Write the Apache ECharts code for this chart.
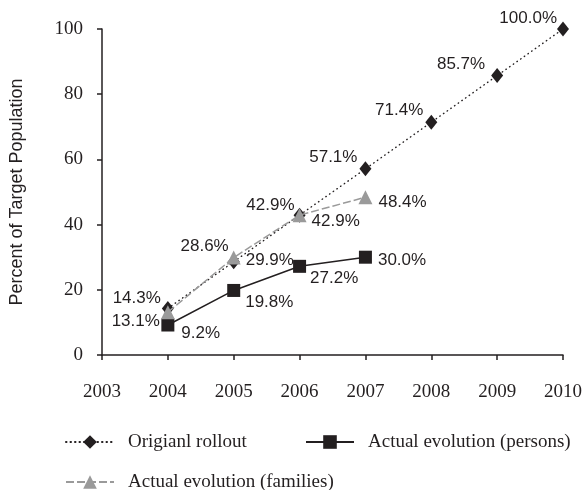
<!DOCTYPE html>
<html>
<head>
<meta charset="utf-8">
<script src="https://cdn.jsdelivr.net/npm/echarts@6/dist/echarts.min.js"></script>
<style>
  html, body { margin: 0; padding: 0; background: #fff; }
  #chart { width: 585px; height: 490px; }
</style>
</head>
<body>
<div id="chart"></div>
<script>
// Years on the horizontal axis
var years = ['2003', '2004', '2005', '2006', '2007', '2008', '2009', '2010'];

// Percent of target population reached, per year ('-' = no value)
var originalRollout = ['-', 14.3, 28.6, 42.9, 57.1, 71.4, 85.7, 100.0];
var actualPersons   = ['-', 9.2, 19.8, 27.2, 30.0, '-', '-', '-'];
var actualFamilies  = ['-', 13.1, 29.9, 42.9, 48.4, '-', '-', '-'];

var seriesNames = ['Origianl rollout', 'Actual evolution (persons)', 'Actual evolution (families)'];

// Label placement per point: [side, dx, dy]
var rolloutLabelPlace = [null, ['left', 4, -10], ['left', 6, -15], ['left', 6, -10], ['left', 3, -12], ['left', 3, -12], ['left', -1, -11], ['left', 5, -11]];
var personsLabelPlace = [null, ['right', 2, 8], ['right', 0, 12], ['right', -1, 12], ['right', 1, 3]];
var familiesLabelPlace = [null, ['left', 4, 9], ['right', 0, 3], ['right', 0, 6], ['right', 1, 5]];

var labelFont = { fontFamily: 'Liberation Sans, Arial, sans-serif', fontSize: 17, color: '#231f20' };
var serifFont = 'Liberation Serif, Times New Roman, serif';

function withLabels(values, places) {
  return values.map(function (v, i) {
    if (v === '-') return '-';
    var p = places[i];
    return {
      value: v,
      label: {
        show: true,
        position: p[0],
        distance: 5,
        offset: [p[1], p[2]],
        formatter: function (d) { return d.value.toFixed(1) + '%'; },
        fontFamily: labelFont.fontFamily,
        fontSize: labelFont.fontSize,
        color: labelFont.color
      }
    };
  });
}

var chart = echarts.init(document.getElementById('chart'), null, { renderer: 'canvas' });

var legendCommon = {
  orient: 'horizontal',
  itemWidth: 48,
  itemHeight: 17,
  itemGap: 40,
  padding: 0,
  textStyle: {
    fontFamily: serifFont,
    fontSize: 19,
    lineHeight: 20,
    color: '#231f20',
    padding: [0, 0, 0, 9]
  }
};

chart.setOption({
  animation: false,
  backgroundColor: '#ffffff',
  grid: { left: 99, right: 21, top: 29, bottom: 135, containLabel: false },
  legend: [
    Object.assign({ data: [seriesNames[0]], left: 65, top: 432 }, legendCommon),
    Object.assign({ data: [seriesNames[1]], left: 305, top: 432 }, legendCommon),
    Object.assign({ data: [seriesNames[2]], left: 65, top: 472 }, legendCommon)
  ],
  xAxis: {
    type: 'category',
    data: years,
    boundaryGap: false,
    axisLine: { lineStyle: { color: '#231f20', width: 1.5 } },
    axisTick: { show: true, inside: false, length: 5, alignWithLabel: true, lineStyle: { color: '#231f20', width: 1.5 } },
    axisLabel: { margin: 28, fontFamily: serifFont, fontSize: 19, color: '#231f20' },
    splitLine: { show: false }
  },
  yAxis: {
    type: 'value',
    min: 0,
    max: 100,
    interval: 20,
    name: 'Percent of Target Population',
    nameLocation: 'middle',
    nameGap: 76,
    nameTextStyle: { fontFamily: 'Liberation Sans, Arial, sans-serif', fontSize: 18, color: '#231f20' },
    axisLine: { show: true, lineStyle: { color: '#231f20', width: 1.5 } },
    axisTick: { show: true, inside: false, length: 5, lineStyle: { color: '#231f20', width: 1.5 } },
    axisLabel: { margin: 19, fontFamily: serifFont, fontSize: 19, color: '#231f20' },
    splitLine: { show: false }
  },
  series: [
    {
      name: seriesNames[0],
      type: 'line',
      data: withLabels(originalRollout, rolloutLabelPlace),
      symbol: 'diamond',
      symbolSize: [12, 15],
      connectNulls: false,
      lineStyle: { color: '#231f20', width: 1.4, type: [0.5, 4], cap: 'round' },
      itemStyle: { color: '#231f20' },
      z: 3
    },
    {
      name: seriesNames[1],
      type: 'line',
      data: withLabels(actualPersons, personsLabelPlace),
      symbol: 'rect',
      symbolSize: 13,
      lineStyle: { color: '#231f20', width: 1.5, type: 'solid' },
      itemStyle: { color: '#231f20' },
      z: 4
    },
    {
      name: seriesNames[2],
      type: 'line',
      data: withLabels(actualFamilies, familiesLabelPlace),
      symbol: 'triangle',
      symbolSize: 14,
      lineStyle: { color: '#9a9a9a', width: 1.5, type: [8, 3] },
      itemStyle: { color: '#9a9a9a' },
      z: 5
    }
  ]
});
</script>
</body>
</html>
